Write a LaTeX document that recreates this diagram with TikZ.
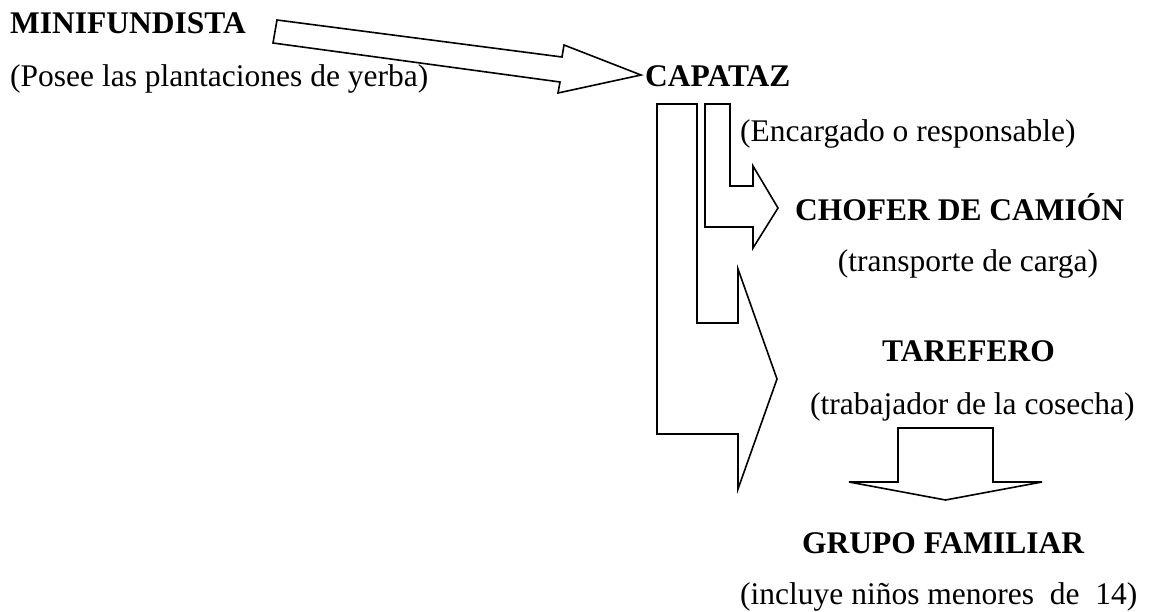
\documentclass[tikz,border=0pt]{standalone}
\usepackage{fontspec}
\setmainfont{Liberation Serif}
\begin{document}
\begin{tikzpicture}[x=1pt,y=-1pt,
  blockarrow/.style={draw=black,line width=1.6pt,line join=miter,fill=white},
  lbl/.style={inner sep=0pt,anchor=base west,font=\fontsize{31.5}{36}\selectfont},
  title/.style={lbl,font=\fontsize{31.5}{36}\selectfont\bfseries}]
\useasboundingbox[fill=white] (0,0) rectangle (1153,612);
% texts
\node[title] (mini) at (10,34) {MINIFUNDISTA};
\node[lbl] (posee) at (10,87) {(Posee las plantaciones de yerba)};
\node[title] (capataz) at (645,87) {CAPATAZ};
\node[lbl] (encargado) at (740,142) {(Encargado o responsable)};
\node[title] (chofer) at (795,221) {CHOFER DE CAMIÓN};
\node[lbl,anchor=base] (transporte) at (968,272) {(transporte de carga)};
\node[title] (tarefero) at (882,361) {TAREFERO};
\node[lbl] (trabajador) at (810,414) {(trabajador de la cosecha)};
\node[title] (grupo) at (802,553) {GRUPO FAMILIAR};
\node[lbl] (incluye) at (740,604) {(incluye niños menores\ \ de\ \ 14)};
% block arrows
\draw[blockarrow] (277,20) -- (562,57) -- (564,45) -- (641,75) -- (558,93) -- (560,82) -- (273,43) -- cycle;
\draw[blockarrow] (657,104) -- (697,104) -- (697,323) -- (738,323) -- (738,269) -- (777,379) -- (738,489) -- (738,434) -- (657,434) -- cycle;
\draw[blockarrow] (705,104) -- (730,104) -- (730,186) -- (753,186) -- (753,166) -- (778,208) -- (753,248) -- (753,227) -- (705,227) -- cycle;
\draw[blockarrow] (898,428) -- (993,428) -- (993,482) -- (1042,482) -- (945.5,500) -- (849,482) -- (898,482) -- cycle;
\end{tikzpicture}
\end{document}
